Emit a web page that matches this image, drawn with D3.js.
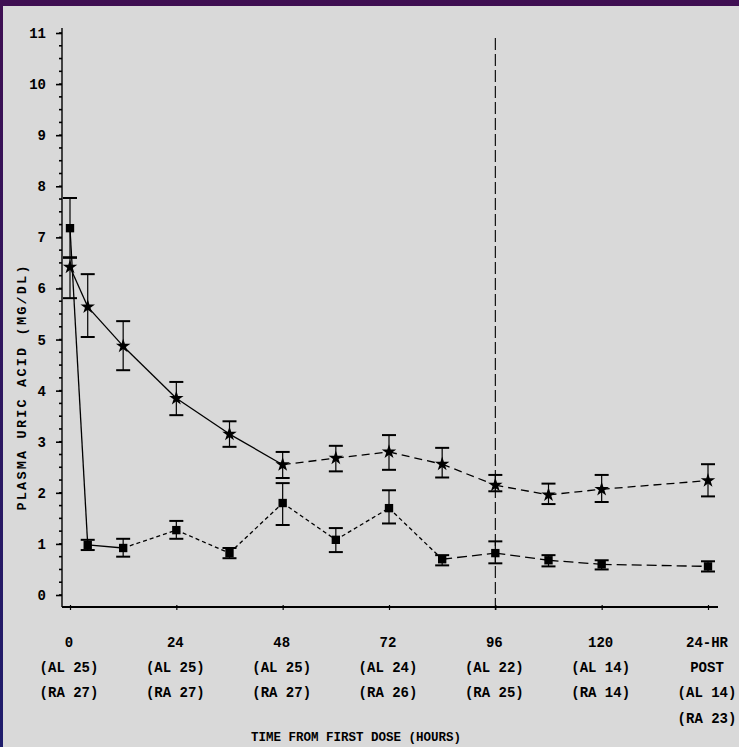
<!DOCTYPE html>
<html>
<head>
<meta charset="utf-8">
<script src="https://cdn.jsdelivr.net/npm/d3@7"></script>
<style>
  html, body { margin: 0; padding: 0; background: #2a1460; }
  svg { display: block; }
</style>
</head>
<body>
<script>
// ---- data ----
const times = [0, 4, 12, 24, 36, 48, 60, 72, 84, 96, 108, 120, 144];
const starMean = [6.42, 5.64, 4.87, 3.85, 3.15, 2.55, 2.68, 2.80, 2.56, 2.15, 1.96, 2.07, 2.24];
const starHi   = [6.61, 6.28, 5.36, 4.17, 3.40, 2.80, 2.92, 3.13, 2.88, 2.35, 2.18, 2.35, 2.56];
const starLo   = [5.81, 5.05, 4.40, 3.52, 2.90, 2.29, 2.42, 2.45, 2.30, 2.03, 1.78, 1.82, 1.93];
const sqMean   = [7.18, 0.98, 0.92, 1.27, 0.82, 1.80, 1.08, 1.70, 0.70, 0.82, 0.68, 0.60, 0.56];
const sqHi     = [7.77, 1.08, 1.10, 1.45, 0.92, 2.19, 1.31, 2.05, 0.78, 1.05, 0.78, 0.68, 0.66];
const sqLo     = [6.60, 0.88, 0.75, 1.10, 0.72, 1.37, 0.84, 1.40, 0.58, 0.62, 0.56, 0.50, 0.46];
const xTickValues = [0, 24, 48, 72, 96, 120, 144];
const xTickLines = [
  ["0", "(AL 25)", "(RA 27)"],
  ["24", "(AL 25)", "(RA 27)"],
  ["48", "(AL 25)", "(RA 27)"],
  ["72", "(AL 24)", "(RA 26)"],
  ["96", "(AL 22)", "(RA 25)"],
  ["120", "(AL 14)", "(RA 14)"],
  ["24-HR", "POST", "(AL 14)", "(RA 23)"]
];
const yTickValues = [0, 1, 2, 3, 4, 5, 6, 7, 8, 9, 10, 11];
const refLineTime = 96;
const yTitle = "PLASMA URIC ACID (MG/DL)";
const xTitle = "TIME FROM FIRST DOSE (HOURS)";

// ---- layout ----
const W = 739, H = 747;
const svg = d3.select("body").append("svg").attr("width", W).attr("height", H);
const defs = svg.append("defs");
const grad = defs.append("linearGradient").attr("id", "bord").attr("x1", 0).attr("y1", 0).attr("x2", 0).attr("y2", 1);
grad.append("stop").attr("offset", 0).attr("stop-color", "#3f0f52");
grad.append("stop").attr("offset", 1).attr("stop-color", "#1f1d6c");
svg.append("rect").attr("width", W).attr("height", H).attr("fill", "url(#bord)");
svg.append("rect").attr("x", 3).attr("y", 6).attr("width", W - 3).attr("height", H - 6).attr("fill", "#d9d9d9");

const ink = "#000";
const font = "'Liberation Mono', 'DejaVu Sans Mono', monospace";

const x = d3.scaleLinear().domain([0, 144]).range([70, 708]);
const y = d3.scaleLinear().domain([0, 11]).range([595, 33]);

const axisX = 62, axisY = 607;

// y axis line
svg.append("line").attr("x1", axisX).attr("x2", axisX).attr("y1", 28).attr("y2", axisY)
  .attr("stroke", ink).attr("stroke-width", 1.4);
// minor ticks
const minor = d3.range(0, 11.01, 0.25);
svg.append("g").selectAll("line").data(minor).join("line")
  .attr("x1", axisX - 3).attr("x2", axisX).attr("y1", d => y(d)).attr("y2", d => y(d))
  .attr("stroke", ink).attr("stroke-width", 1.6);
// major ticks + labels via d3 axis
const yAxis = d3.axisLeft(y).tickValues(yTickValues).tickFormat(d3.format("d")).tickSize(6).tickPadding(10);
const gy = svg.append("g").attr("transform", `translate(${axisX},0)`).call(yAxis);
gy.select(".domain").remove();
gy.selectAll(".tick line").attr("stroke", ink).attr("stroke-width", 1.6);
gy.selectAll(".tick text").attr("fill", ink).style("font-family", font).style("font-weight", "bold").style("font-size", "14px");

// x axis line
svg.append("line").attr("x1", axisX).attr("x2", 718).attr("y1", axisY).attr("y2", axisY)
  .attr("stroke", ink).attr("stroke-width", 1.8);
const xAxis = d3.axisBottom(x).tickValues(xTickValues).tickFormat("").tickSize(5);
const gx = svg.append("g").attr("transform", `translate(0,${axisY - 2})`).call(xAxis);
gx.select(".domain").remove();
gx.selectAll(".tick line").attr("stroke", ink).attr("stroke-width", 1.2);

// x tick labels (multi-line)
const rowY = [647, 672, 697, 723];
const xl = svg.append("g");
xTickValues.forEach((t, i) => {
  xTickLines[i].forEach((s, j) => {
    xl.append("text").attr("x", x(t) - 1).attr("y", rowY[j]).attr("text-anchor", "middle")
      .attr("fill", ink).style("font-family", font).style("font-weight", "bold").style("font-size", "14px")
      .text(s);
  });
});

// titles
svg.append("text").attr("x", 356).attr("y", 741).attr("text-anchor", "middle")
  .attr("fill", ink).style("font-family", font).style("font-weight", "bold").style("font-size", "12.5px")
  .text(xTitle);
svg.append("text").attr("transform", "translate(26,388) rotate(-90)").attr("text-anchor", "middle")
  .attr("fill", ink).style("font-family", font).style("font-weight", "bold").style("font-size", "13.5px")
  .attr("textLength", 245).attr("lengthAdjust", "spacing")
  .text(yTitle);

// reference dashed vertical line
svg.append("line").attr("x1", x(refLineTime)).attr("x2", x(refLineTime)).attr("y1", 38).attr("y2", 614)
  .attr("stroke", ink).attr("stroke-width", 1.1).attr("stroke-dasharray", "12,4");

// series drawing
function drawSeries(mean, hi, lo, symbol, symSize, dashFor) {
  const g = svg.append("g");
  const pts = times.map((t, i) => ({ t, v: mean[i], hi: hi[i], lo: lo[i] }));
  for (let i = 0; i < pts.length - 1; i++) {
    const a = pts[i], b = pts[i + 1];
    g.append("line").attr("x1", x(a.t)).attr("y1", y(a.v)).attr("x2", x(b.t)).attr("y2", y(b.v))
      .attr("stroke", ink).attr("stroke-width", 1.3).attr("stroke-dasharray", dashFor(a.t));
  }
  const eb = g.selectAll(".eb").data(pts).join("g");
  eb.append("line").attr("x1", d => x(d.t)).attr("x2", d => x(d.t)).attr("y1", d => y(d.hi)).attr("y2", d => y(d.lo))
    .attr("stroke", ink).attr("stroke-width", 1.2);
  eb.append("line").attr("x1", d => x(d.t) - 7).attr("x2", d => x(d.t) + 7).attr("y1", d => y(d.hi)).attr("y2", d => y(d.hi))
    .attr("stroke", ink).attr("stroke-width", 2);
  eb.append("line").attr("x1", d => x(d.t) - 7).attr("x2", d => x(d.t) + 7).attr("y1", d => y(d.lo)).attr("y2", d => y(d.lo))
    .attr("stroke", ink).attr("stroke-width", 2);
  g.selectAll(".m").data(pts).join("path")
    .attr("transform", d => `translate(${x(d.t)},${y(d.v)})`)
    .attr("d", d3.symbol().type(symbol).size(symSize))
    .attr("fill", ink);
}

drawSeries(starMean, starHi, starLo, d3.symbolStar, 65, t => t < 48 ? null : "8,5");
drawSeries(sqMean, sqHi, sqLo, d3.symbolSquare, 70, t => t < 12 ? null : (t < 84 ? "4,3" : "10,5"));
</script>
</body>
</html>
